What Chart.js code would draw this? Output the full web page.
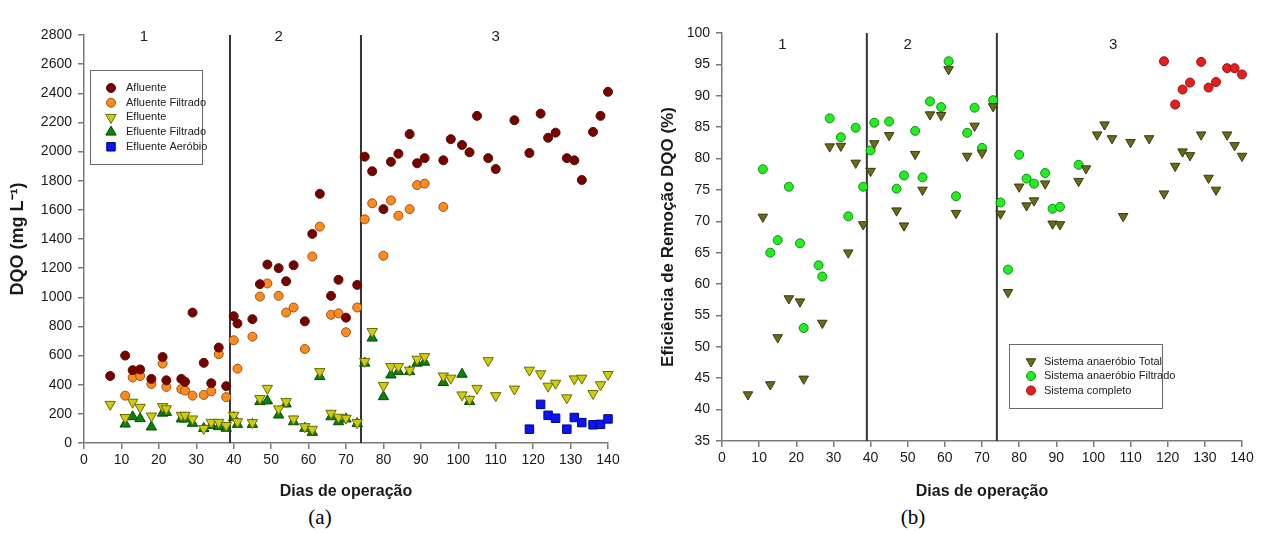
<!DOCTYPE html>
<html>
<head>
<meta charset="utf-8">
<script src="https://cdn.jsdelivr.net/npm/chart.js@4.4.0/dist/chart.umd.min.js"></script>
<style>
  body { margin: 0; background: #fff; width: 1265px; height: 533px; overflow: hidden; position: relative; }
  #wrapA { position: absolute; left: 0; top: 0; }
  #wrapB { position: absolute; left: 640px; top: 0; }
  .cap { position: absolute; top: 505px; width: 50px; text-align: center;
         font-family: "Times New Roman", "Liberation Serif", serif; font-size: 21px; color: #000; }
</style>
</head>
<body>
<div id="wrapA"><canvas id="chartA" width="630" height="505"></canvas></div>
<div id="wrapB"><canvas id="chartB" width="625" height="505"></canvas></div>
<div class="cap" style="left:295px">(a)</div>
<div class="cap" style="left:888px">(b)</div>
<script>
// ---- data (a): DQO, mg/L
const diasAfluente = [7, 11, 13, 15, 18, 21, 22, 26, 27, 29, 32, 34, 36, 38, 40, 41, 45, 47, 49, 52, 54, 56, 59, 61, 63, 66, 68, 70, 73,
  75, 77, 80, 82, 84, 87, 89, 91, 96, 98, 101, 103, 105, 108, 110, 115, 119, 122, 124, 126, 129, 131, 133, 136, 138, 140];
const afluente = [460, 600, 500, 505, 440, 590, 430, 440, 420, 895, 550, 410, 655, 390, 870, 820, 850, 1090, 1225, 1200, 1110, 1220, 835, 1435, 1710, 1010, 1120, 860, 1085,
  1965, 1865, 1605, 1930, 1985, 2120, 1920, 1955, 1940, 2085, 2045, 1995, 2245, 1955, 1880, 2215, 1990, 2260, 2095, 2130, 1955, 1940, 1805, 2135, 2245, 2410];

const diasAflFiltrado = [11, 13, 15, 18, 21, 22, 26, 27, 29, 32, 34, 36, 38, 40, 41, 45, 47, 49, 52, 54, 56, 59, 61, 63, 66, 68, 70, 73,
  75, 77, 80, 82, 84, 87, 89, 91, 96];
const afluenteFiltrado = [325, 450, 460, 405, 545, 385, 370, 360, 325, 330, 355, 610, 315, 705, 510, 730, 1005, 1095, 1010, 895, 930, 645, 1280, 1485, 880, 890, 760, 930,
  1535, 1645, 1285, 1665, 1560, 1605, 1770, 1780, 1620];

const diasEfluente = [7, 11, 13, 15, 18, 21, 22, 26, 27, 29, 32, 34, 36, 38, 40, 41, 45, 47, 49, 52, 54, 56, 59, 61, 63, 66, 68, 70, 73,
  75, 77, 80, 82, 84, 87, 89, 91, 96, 98, 101, 103, 105, 108, 110, 115, 119, 122, 124, 126, 129, 131, 133, 136, 138, 140];
const efluente = [265, 175, 280, 245, 185, 250, 235, 190, 190, 165, 100, 142, 142, 120, 190, 146, 140, 305, 375, 234, 284, 165, 112, 94, 490, 204, 177, 170, 140,
  560, 765, 395, 525, 525, 500, 575, 593, 460, 445, 330, 300, 375, 565, 325, 370, 500, 475, 390, 410, 310, 440, 445, 340, 400, 470];

const diasEflFiltrado = [11, 13, 15, 18, 21, 22, 26, 27, 29, 32, 34, 36, 38, 40, 41, 45, 47, 49, 52, 54, 56, 59, 61, 63, 66, 68, 70, 73,
  75, 77, 80, 82, 84, 87, 89, 91, 96, 101, 103];
const efluenteFiltrado = [130, 180, 167, 110, 205, 210, 165, 165, 135, 100, 120, 112, 101, 176, 128, 128, 284, 289, 192, 268, 146, 101, 73, 456, 180, 146, 165, 133,
  548, 720, 318, 467, 490, 490, 548, 555, 415, 472, 285];

const diasAerobio = [119, 122, 124, 126, 129, 131, 133, 136, 138, 140];
const efluenteAerobio = [95, 265, 190, 170, 95, 175, 140, 125, 128, 165];

// ---- data (b): eficiência de remoção, %
const diasTotal = [7, 11, 13, 15, 18, 21, 22, 27, 29, 32, 34, 36, 38, 40, 41, 45, 47, 49, 52, 54, 56, 59, 61, 63, 66, 68, 70, 73,
  75, 77, 80, 82, 84, 87, 89, 91, 96, 98, 101, 103, 105, 108, 110, 115, 119, 122, 124, 126, 129, 131, 133, 136, 138, 140];
const efTotal = [42.4, 70.7, 44.0, 51.5, 57.7, 57.2, 44.9, 53.8, 81.9, 82.0, 65.0, 79.3, 69.5, 78.0, 82.4, 83.7, 71.7, 69.3, 80.7, 75.0, 87.0, 86.9, 94.2, 71.3, 80.4, 85.2, 80.9, 88.3,
  71.2, 58.7, 75.5, 72.5, 73.3, 76.0, 69.6, 69.5, 76.4, 78.4, 83.8, 85.4, 83.2, 70.8, 82.6, 83.2, 74.4, 78.8, 81.1, 80.5, 83.8, 76.9, 75.0, 83.8, 82.1, 80.4];

const diasFiltrado = [11, 13, 15, 18, 21, 22, 26, 27, 29, 32, 34, 36, 38, 40, 41, 45, 47, 49, 52, 54, 56, 59, 61, 63, 66, 68, 70, 73,
  75, 77, 80, 82, 84, 87, 89, 91, 96];
const efFiltrado = [78.3, 65.0, 67.0, 75.5, 66.5, 53.0, 63.0, 61.2, 86.4, 83.4, 70.8, 84.9, 75.5, 81.3, 85.7, 85.9, 75.2, 77.3, 84.4, 77.0, 89.1, 88.2, 95.5, 74.0, 84.1, 88.1, 81.7, 89.3,
  73.0, 62.3, 80.6, 76.8, 76.0, 77.7, 72.0, 72.3, 79.0];

const diasCompleto = [119, 122, 124, 126, 129, 131, 133, 136, 138, 140];
const efCompleto = [95.5, 88.6, 91.0, 92.1, 95.4, 91.3, 92.2, 94.4, 94.4, 93.4];

// phases
const limitesFase = [39, 74];
const nomesFase = ['1', '2', '3'];
const posFaseA = [16, 52, 110];
const posFaseB = [16.3, 50, 105.3];

const fontFamily = 'Arial, "Liberation Sans", Helvetica, sans-serif';
const axisColor = '#7a7a7a';

function pts(days, vals) {
    return days.map((d, i) => ({ x: d, y: vals[i] }));
}

function series(label, days, vals, style, fill, border, radius, rotation) {
    return {
        label: label,
        data: pts(days, vals),
        pointStyle: style,
        pointRotation: rotation || 0,
        pointRadius: radius,
        pointBackgroundColor: fill,
        pointBorderColor: border,
        pointBorderWidth: 1,
        backgroundColor: fill,
        borderColor: border,
        showLine: false,
        clip: false
    };
}

function phaseLines(yMin, yMax) {
    return limitesFase.map(x => ({
        isPhase: true,
        data: [{ x: x, y: yMin }, { x: x, y: yMax }],
        showLine: true,
        borderColor: '#333333',
        borderWidth: 2,
        pointRadius: 0
    }));
}

function drawMarker(ctx, style, rotation, r, x, y) {
    ctx.beginPath();
    if (style === 'circle') {
        ctx.arc(x, y, r, 0, Math.PI * 2);
    } else if (style === 'rect') {
        const s = r * Math.SQRT1_2;
        ctx.rect(x - s, y - s, 2 * s, 2 * s);
    } else {
        let a = rotation * Math.PI / 180;
        ctx.moveTo(x + Math.sin(a) * r, y - Math.cos(a) * r);
        for (let k = 0; k < 2; k++) {
            a += Math.PI * 2 / 3;
            ctx.lineTo(x + Math.sin(a) * r, y - Math.cos(a) * r);
        }
        ctx.closePath();
    }
    ctx.fill();
    ctx.stroke();
}

// phase numbers on top of the plot
const phaseLabelPlugin = {
    id: 'phaseLabels',
    afterDatasetsDraw(chart, args, opts) {
        const ctx = chart.ctx;
        const xs = chart.scales.x;
        ctx.save();
        ctx.font = '15px ' + fontFamily;
        ctx.fillStyle = '#222';
        ctx.textAlign = 'center';
        ctx.textBaseline = 'middle';
        nomesFase.forEach((t, i) => {
            ctx.fillText(t, xs.getPixelForValue(opts.at[i]), opts.y);
        });
        ctx.restore();
    }
};

// boxed legend inside the plot (SigmaPlot look)
const boxLegendPlugin = {
    id: 'boxLegend',
    afterDraw(chart, args, opts) {
        const ctx = chart.ctx;
        const items = chart.data.datasets.filter(d => !d.isPhase);
        ctx.save();
        ctx.strokeStyle = '#6a6a6a';
        ctx.lineWidth = 1;
        ctx.strokeRect(opts.x + 0.5, opts.y + 0.5, opts.w, opts.h);
        ctx.font = '11px ' + fontFamily;
        ctx.textBaseline = 'middle';
        items.forEach((d, i) => {
            const yy = opts.firstRow + i * opts.rowH;
            ctx.fillStyle = d.pointBackgroundColor;
            ctx.strokeStyle = d.pointBorderColor;
            ctx.lineWidth = 1;
            drawMarker(ctx, d.pointStyle, d.pointRotation, d.pointRadius, opts.markerX, yy);
            ctx.fillStyle = '#222';
            ctx.fillText(d.label, opts.textX, yy);
        });
        ctx.restore();
    }
};

function baseScales(xTitle, yTitle, yMin, yMax, yStep, yWidth, xHeight, yTitleSize, yTitlePad) {
    const grid = { display: true, drawOnChartArea: false, drawTicks: true, tickLength: 6, color: axisColor, lineWidth: 1.5 };
    const border = { display: true, color: axisColor, width: 1.5 };
    const tickFont = { family: fontFamily, size: 14 };
    return {
        x: {
            type: 'linear', min: 0, max: 140,
            grid: grid, border: border,
            ticks: { stepSize: 10, font: tickFont, color: '#1a1a1a', padding: 3, maxRotation: 0, autoSkip: false },
            title: { display: true, text: xTitle, color: '#1a1a1a', font: { family: fontFamily, size: 16, weight: 'bold' }, padding: { top: 0, bottom: 4 } },
            afterFit: s => { s.height = xHeight; s.paddingLeft = 0; s.paddingRight = 0; }
        },
        y: {
            type: 'linear', min: yMin, max: yMax,
            grid: grid, border: border,
            ticks: { stepSize: yStep, font: tickFont, color: '#1a1a1a', padding: 6, callback: v => v, autoSkip: false },
            title: { display: true, text: yTitle, color: '#1a1a1a', font: { family: fontFamily, size: yTitleSize, weight: 'bold' }, padding: { top: yTitlePad, bottom: 0 } },
            afterFit: s => { s.width = yWidth; s.paddingTop = 0; s.paddingBottom = 0; }
        }
    };
}

// ---- chart (a)
new Chart(document.getElementById('chartA'), {
    type: 'scatter',
    data: {
        datasets: [
            series('Afluente', diasAfluente, afluente, 'circle', '#7a0000', '#4a1608', 4.5),
            series('Afluente Filtrado', diasAflFiltrado, afluenteFiltrado, 'circle', '#ff8c1a', '#9a5020', 4.5),
            series('Efluente', diasEfluente, efluente, 'triangle', '#cccc10', '#6b6b00', 6, 180),
            series('Efluente Filtrado', diasEflFiltrado, efluenteFiltrado, 'triangle', '#0a820a', '#044d04', 6),
            series('Efluente Aeróbio', diasAerobio, efluenteAerobio, 'rect', '#0a14f5', '#000a80', 6)
        ].concat(phaseLines(0, 2800))
    },
    options: {
        responsive: false,
        animation: false,
        events: [],
        layout: { padding: { top: 35, right: 22, left: 0, bottom: 0 } },
        scales: baseScales('Dias de operação', 'DQO (mg L⁻¹)', 0, 2800, 200, 84, 62, 18, 7),
        plugins: {
            legend: { display: false },
            tooltip: { enabled: false },
            phaseLabels: { at: posFaseA, y: 37 },
            boxLegend: { x: 90, y: 70, w: 112, h: 94, markerX: 111, textX: 126, firstRow: 88, rowH: 14.7 }
        }
    },
    plugins: [phaseLabelPlugin, boxLegendPlugin]
});

// ---- chart (b)
new Chart(document.getElementById('chartB'), {
    type: 'scatter',
    data: {
        datasets: [
            series('Sistema anaeróbio Total', diasTotal, efTotal, 'triangle', '#6b6b1c', '#3a3a0c', 5.5, 180),
            series('Sistema anaeróbio Filtrado', diasFiltrado, efFiltrado, 'circle', '#22ee22', '#178a17', 4.5),
            series('Sistema completo', diasCompleto, efCompleto, 'circle', '#ea1c1c', '#8a1414', 4.5)
        ].concat(phaseLines(35, 100)),
    },
    options: {
        responsive: false,
        animation: false,
        events: [],
        layout: { padding: { top: 33, right: 23, left: 0, bottom: 0 } },
        scales: baseScales('Dias de operação', 'Eficiência de Remoção DQO (%)', 35, 100, 5, 82, 64, 17, 18),
        plugins: {
            legend: { display: false },
            tooltip: { enabled: false },
            phaseLabels: { at: posFaseB, y: 45 },
            boxLegend: { x: 369, y: 344, w: 153, h: 64, markerX: 391, textX: 404, firstRow: 361.5, rowH: 14.5 }
        }
    },
    plugins: [phaseLabelPlugin, boxLegendPlugin]
});
</script>
</body>
</html>
